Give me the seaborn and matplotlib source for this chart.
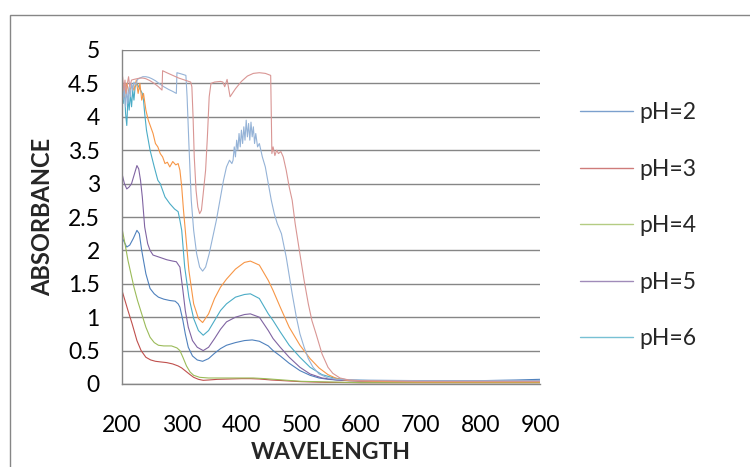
import numpy as np
import pandas as pd
import matplotlib
matplotlib.use("Agg")
import matplotlib.pyplot as plt
import seaborn as sns
from matplotlib.lines import Line2D
from matplotlib.patches import Rectangle

sns.set_theme(style="white")
plt.rcParams['font.family'] = ['Lato', 'DejaVu Sans']

# ---------------- data ----------------
series_names = ["pH=2", "pH=3", "pH=4", "pH=5", "pH=6", "pH=7", "pH=8", "pH=9"]
series_colors = ["#4F81BD", "#C0504D", "#9BBB59", "#8064A2", "#4BACC6",
                 "#F79646", "#95B3D7", "#D99694"]
legend_count = 5

ph2_x = [200, 204, 208, 213, 219, 225, 229, 233, 240, 247, 254, 261, 270, 280, 289, 294, 297,
         302, 306, 311, 318, 326, 335, 345, 355, 365, 375, 390, 405, 418, 430, 445, 453, 465,
         480, 498, 515, 530, 545, 560, 580, 620, 700, 800, 860, 900]
ph2_y = [2.20, 2.12, 2.05, 2.08, 2.18, 2.30, 2.25, 2.00, 1.65, 1.43, 1.35, 1.30, 1.27, 1.25,
         1.24, 1.20, 1.15, 0.95, 0.75, 0.55, 0.42, 0.36, 0.34, 0.38, 0.46, 0.53, 0.58, 0.62,
         0.65, 0.66, 0.64, 0.57, 0.50, 0.42, 0.31, 0.20, 0.13, 0.09, 0.07, 0.06, 0.05, 0.05,
         0.05, 0.05, 0.06, 0.07]

ph3_x = [200, 205, 210, 217, 225, 232, 240, 248, 256, 265, 275, 285, 294, 300, 307, 314, 320,
         328, 336, 345, 360, 380, 400, 415, 430, 450, 470, 500, 540, 600, 700, 800, 900]
ph3_y = [1.40, 1.25, 1.10, 0.90, 0.65, 0.50, 0.40, 0.36, 0.34, 0.33, 0.32, 0.30, 0.27, 0.24,
         0.19, 0.14, 0.10, 0.07, 0.055, 0.06, 0.07, 0.075, 0.08, 0.08, 0.075, 0.06, 0.05,
         0.035, 0.025, 0.02, 0.02, 0.02, 0.02]

ph4_x = [200, 205, 210, 215, 220, 226, 233, 240, 247, 254, 261, 270, 283, 292, 297, 302, 308,
         314, 320, 330, 345, 370, 400, 420, 440, 470, 500, 550, 600, 700, 900]
ph4_y = [2.33, 2.10, 1.85, 1.65, 1.45, 1.25, 1.05, 0.85, 0.70, 0.62, 0.58, 0.57, 0.57, 0.54,
         0.50, 0.40, 0.27, 0.18, 0.13, 0.10, 0.09, 0.09, 0.09, 0.09, 0.08, 0.06, 0.04, 0.03,
         0.02, 0.02, 0.02]

ph5_x = [200, 204, 208, 212, 216, 221, 225, 228, 231, 234, 238, 243, 247, 252, 262, 275, 285,
         291, 297, 302, 306, 311, 318, 326, 336, 345, 355, 365, 375, 390, 405, 415, 430, 445,
         453, 465, 480, 498, 515, 535, 560, 600, 700, 900]
ph5_y = [3.15, 3.00, 2.92, 2.95, 3.00, 3.15, 3.27, 3.22, 3.05, 2.80, 2.35, 2.10, 2.00, 1.93,
         1.90, 1.86, 1.84, 1.83, 1.75, 1.40, 1.10, 0.85, 0.65, 0.55, 0.50, 0.55, 0.68, 0.82,
         0.93, 1.00, 1.04, 1.05, 1.00, 0.80, 0.68, 0.55, 0.40, 0.25, 0.15, 0.09, 0.06, 0.04,
         0.04, 0.04]

ph6_x = [200, 202, 204, 206, 208, 210, 212, 214, 216, 218, 220, 222, 225, 228, 231, 234, 236,
         238, 241, 247, 254, 260, 264, 272, 280, 288, 294, 297, 300, 305, 312, 320, 328, 336,
         345, 355, 365, 375, 390, 405, 415, 430, 445, 453, 465, 480, 498, 515, 535, 555, 580,
         620, 700, 900]
ph6_y = [4.40, 4.20, 4.45, 4.05, 3.87, 4.30, 4.10, 4.35, 4.15, 4.40, 4.25, 4.45, 4.50, 4.45,
         4.40, 4.35, 4.25, 4.05, 3.80, 3.50, 3.25, 3.05, 3.00, 2.80, 2.70, 2.62, 2.58, 2.45,
         2.30, 1.75, 1.30, 0.98, 0.80, 0.73, 0.80, 0.95, 1.10, 1.20, 1.30, 1.34, 1.35, 1.28,
         1.05, 0.95, 0.78, 0.58, 0.40, 0.25, 0.14, 0.09, 0.06, 0.05, 0.04, 0.04]

ph7_x = [200, 204, 208, 212, 216, 220, 224, 227, 230, 233, 236, 240, 244, 248, 252, 256, 260,
         264, 268, 272, 276, 280, 285, 290, 294, 297, 300, 303, 307, 312, 320, 328, 335, 345,
         355, 365, 375, 390, 405, 415, 430, 445, 453, 465, 480, 498, 515, 530, 545, 560, 580,
         620, 700, 900]
ph7_y = [4.45, 4.30, 4.50, 4.35, 4.48, 4.40, 4.55, 4.35, 4.50, 4.25, 4.35, 4.10, 3.95, 3.85,
         3.75, 3.60, 3.55, 3.45, 3.40, 3.30, 3.32, 3.25, 3.33, 3.28, 3.30, 3.20, 2.95, 2.60,
         2.20, 1.70, 1.20, 0.98, 0.92, 1.05, 1.28, 1.45, 1.57, 1.72, 1.82, 1.84, 1.78, 1.55,
         1.40, 1.15, 0.85, 0.58, 0.38, 0.24, 0.14, 0.08, 0.05, 0.04, 0.03, 0.03]

ph8_x = [200, 202, 204, 206, 208, 210, 212, 214, 216, 218, 220, 223, 226, 230, 235, 240, 245,
         250, 256, 262, 270, 278, 285, 291, 292, 300, 307, 309, 312, 316, 320, 325, 330, 335,
         340, 346, 352, 358, 364, 370, 375, 380, 384, 386, 388, 390, 392, 394, 396, 398, 400,
         402, 404, 406, 408, 410, 412, 414, 416, 418, 420, 422, 424, 427, 430, 435, 440, 445,
         450, 455, 460, 467, 475, 485, 492, 498, 505, 512, 520, 530, 545, 560, 600, 700, 800,
         900]
ph8_y = [4.50, 4.25, 4.45, 4.15, 4.40, 4.20, 4.45, 4.30, 4.50, 4.40, 4.52, 4.48, 4.56, 4.58,
         4.60, 4.60, 4.59, 4.57, 4.54, 4.50, 4.45, 4.41, 4.38, 4.35, 4.66, 4.64, 4.62, 4.30,
         3.60, 2.75, 2.30, 1.95, 1.75, 1.69, 1.75, 1.95, 2.20, 2.45, 2.75, 3.05, 3.25, 3.35,
         3.30, 3.35, 3.55, 3.40, 3.65, 3.50, 3.75, 3.55, 3.80, 3.60, 3.85, 3.65, 3.95, 3.70,
         3.90, 3.65, 3.92, 3.70, 3.85, 3.60, 3.75, 3.55, 3.60, 3.40, 3.25, 3.00, 2.75, 2.55,
         2.40, 2.25, 1.90, 1.35, 1.00, 0.75, 0.55, 0.38, 0.25, 0.15, 0.09, 0.07, 0.06, 0.05,
         0.05, 0.05]

ph9_x = [200, 201, 203, 205, 207, 209, 211, 213, 216, 220, 225, 230, 235, 240, 247, 254, 261,
         267, 268, 275, 285, 295, 305, 315, 317, 319, 321, 324, 327, 330, 333, 336, 340, 343,
         346, 349, 355, 365, 369, 372, 376, 381, 390, 400, 410, 420, 430, 440, 449, 451, 453,
         456, 459, 462, 466, 470, 475, 480, 485, 490, 497, 505, 512, 518, 525, 535, 545, 553,
         565, 580, 600, 700, 800, 900]
ph9_y = [3.90, 4.60, 4.40, 4.55, 4.35, 4.50, 4.60, 4.45, 4.55, 4.56, 4.57, 4.58, 4.58, 4.57,
         4.54, 4.50, 4.45, 4.40, 4.69, 4.66, 4.62, 4.58, 4.55, 4.52, 4.45, 4.00, 3.40, 2.90,
         2.65, 2.55, 2.60, 2.85, 3.20, 3.70, 4.30, 4.50, 4.52, 4.53, 4.52, 4.45, 4.56, 4.30,
         4.42, 4.53, 4.61, 4.65, 4.66, 4.65, 4.62, 3.45, 3.55, 3.42, 3.50, 3.45, 3.48, 3.40,
         3.20, 2.95, 2.75, 2.40, 2.00, 1.55, 1.20, 0.95, 0.75, 0.45, 0.25, 0.16, 0.09, 0.06,
         0.05, 0.04, 0.04, 0.04]

all_x = [ph2_x, ph3_x, ph4_x, ph5_x, ph6_x, ph7_x, ph8_x, ph9_x]
all_y = [ph2_y, ph3_y, ph4_y, ph5_y, ph6_y, ph7_y, ph8_y, ph9_y]

x_ticks = [200, 300, 400, 500, 600, 700, 800, 900]
y_ticks = [0, 0.5, 1, 1.5, 2, 2.5, 3, 3.5, 4, 4.5, 5]
y_tick_labels = ["0", "0.5", "1", "1.5", "2", "2.5", "3", "3.5", "4", "4.5", "5"]

frames = [pd.DataFrame({"wavelength": x, "absorbance": y, "series": n})
          for x, y, n in zip(all_x, all_y, series_names)]
df = pd.concat(frames, ignore_index=True)

# ---------------- figure ----------------
W, H = 750, 467
fig = plt.figure(figsize=(W / 100, H / 100), dpi=100)
fig.patch.set_facecolor("white")
ax = fig.add_axes([122 / W, (H - 384) / H, 418 / W, 334 / H])

sns.lineplot(data=df, x="wavelength", y="absorbance", hue="series",
             hue_order=series_names, palette=dict(zip(series_names, series_colors)),
             sort=False, estimator=None, linewidth=0.8, legend=False, ax=ax)

grid_c = "#868686"
ax.set_xlim(200, 900)
ax.set_ylim(0, 5)
ax.set_xticks(x_ticks)
ax.set_xticklabels([str(v) for v in x_ticks])
ax.set_yticks(y_ticks)
ax.set_yticklabels(y_tick_labels)
ax.yaxis.grid(True, color=grid_c, linewidth=1)
ax.xaxis.grid(False)
ax.set_axisbelow(True)
for s in ["top", "right"]:
    ax.spines[s].set_visible(False)
for s in ["left", "bottom"]:
    ax.spines[s].set_color(grid_c)
    ax.spines[s].set_linewidth(1)
ax.tick_params(axis="both", which="major", direction="out", length=6, width=1,
               color=grid_c, labelsize=16.5, labelcolor="black")
ax.tick_params(axis="y", pad=10)
ax.tick_params(axis="x", pad=16)

ax.set_xlabel("WAVELENGTH", fontsize=16.5, fontweight="bold")
ax.set_ylabel("ABSORBANCE", fontsize=17, fontweight="bold")
ax.xaxis.set_label_coords(0.5, -(442 - 384) / 334)
ax.yaxis.set_label_coords(-(122 - 54) / 418, 0.5)

handles = [Line2D([], [], color=c, linewidth=1.0, alpha=0.75) for c in series_colors[:legend_count]]
fig.legend(handles, series_names[:legend_count], loc="upper left",
           bbox_to_anchor=(571 / W, 1 - 93 / H), frameon=False, fontsize=16.5,
           handlelength=2.3, handletextpad=0.3, labelspacing=1.55, borderaxespad=0)

fig.add_artist(Rectangle((9.5 / W, -0.2), 2, (H - 15) / H + 0.2, transform=fig.transFigure,
                         fill=False, edgecolor=grid_c, linewidth=1))

fig.savefig("out.png", dpi=100)
